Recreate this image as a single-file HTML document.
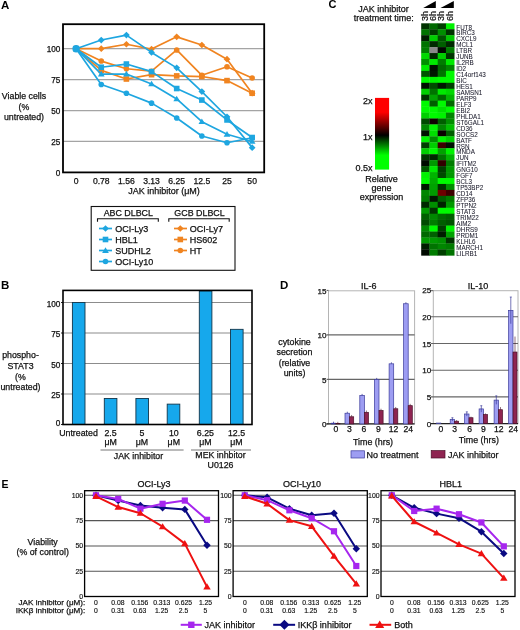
<!DOCTYPE html>
<html><head><meta charset="utf-8"><style>
html,body{margin:0;padding:0;background:#fff;}
svg{display:block;font-family:"Liberation Sans", sans-serif;will-change:transform;filter:blur(0.3px);}
</style></head><body>
<svg width="520" height="630" viewBox="0 0 520 630">
<rect width="520" height="630" fill="#fff"/>
<text x="1.00" y="9.34" font-size="11.5" text-anchor="start" font-weight="bold" fill="#000" stroke="#000" stroke-width="0" >A</text>
<line x1="63.00" y1="48.70" x2="264.20" y2="48.70" stroke="#a4a4a4" stroke-width="1.3" />
<line x1="63.00" y1="79.62" x2="264.20" y2="79.62" stroke="#a4a4a4" stroke-width="1.3" />
<line x1="63.00" y1="110.55" x2="264.20" y2="110.55" stroke="#a4a4a4" stroke-width="1.3" />
<line x1="63.00" y1="141.47" x2="264.20" y2="141.47" stroke="#a4a4a4" stroke-width="1.3" />
<text x="60.40" y="51.85" font-size="8.2" text-anchor="end" font-weight="normal" fill="#111" stroke="#111" stroke-width="0.25" >100</text>
<text x="60.40" y="82.78" font-size="8.2" text-anchor="end" font-weight="normal" fill="#111" stroke="#111" stroke-width="0.25" >75</text>
<text x="60.40" y="113.70" font-size="8.2" text-anchor="end" font-weight="normal" fill="#111" stroke="#111" stroke-width="0.25" >50</text>
<text x="60.40" y="144.63" font-size="8.2" text-anchor="end" font-weight="normal" fill="#111" stroke="#111" stroke-width="0.25" >25</text>
<text x="60.40" y="175.55" font-size="8.2" text-anchor="end" font-weight="normal" fill="#111" stroke="#111" stroke-width="0.25" >0</text>
<text x="76.10" y="183.50" font-size="8.6" text-anchor="middle" font-weight="normal" fill="#111" stroke="#111" stroke-width="0.25" >0</text>
<text x="101.25" y="183.50" font-size="8.6" text-anchor="middle" font-weight="normal" fill="#111" stroke="#111" stroke-width="0.25" >0.78</text>
<text x="126.40" y="183.50" font-size="8.6" text-anchor="middle" font-weight="normal" fill="#111" stroke="#111" stroke-width="0.25" >1.56</text>
<text x="151.55" y="183.50" font-size="8.6" text-anchor="middle" font-weight="normal" fill="#111" stroke="#111" stroke-width="0.25" >3.13</text>
<text x="176.70" y="183.50" font-size="8.6" text-anchor="middle" font-weight="normal" fill="#111" stroke="#111" stroke-width="0.25" >6.25</text>
<text x="201.85" y="183.50" font-size="8.6" text-anchor="middle" font-weight="normal" fill="#111" stroke="#111" stroke-width="0.25" >12.5</text>
<text x="227.00" y="183.50" font-size="8.6" text-anchor="middle" font-weight="normal" fill="#111" stroke="#111" stroke-width="0.25" >25</text>
<text x="252.15" y="183.50" font-size="8.6" text-anchor="middle" font-weight="normal" fill="#111" stroke="#111" stroke-width="0.25" >50</text>
<text x="164.00" y="194.44" font-size="9" text-anchor="middle" font-weight="normal" fill="#111" stroke="#111" stroke-width="0.25" >JAK inhibitor (μM)</text>
<text x="24.00" y="99.17" font-size="8.8" text-anchor="middle" font-weight="normal" fill="#111" stroke="#111" stroke-width="0.25" >Viable cells</text>
<text x="24.00" y="109.77" font-size="8.8" text-anchor="middle" font-weight="normal" fill="#111" stroke="#111" stroke-width="0.25" >(%</text>
<text x="24.00" y="120.37" font-size="8.8" text-anchor="middle" font-weight="normal" fill="#111" stroke="#111" stroke-width="0.25" >untreated)</text>
<polyline points="76.10,48.70 101.25,48.70 126.40,44.25 151.55,49.07 176.70,36.82 201.85,44.99 227.00,59.21 252.15,93.23" fill="none" stroke="#f08420" stroke-width="1.7" stroke-linejoin="round"/>
<polygon points="76.10,45.34 79.46,48.70 76.10,52.06 72.74,48.70" fill="#f08420"/>
<polygon points="101.25,45.34 104.61,48.70 101.25,52.06 97.89,48.70" fill="#f08420"/>
<polygon points="126.40,40.89 129.76,44.25 126.40,47.61 123.04,44.25" fill="#f08420"/>
<polygon points="151.55,45.71 154.91,49.07 151.55,52.43 148.19,49.07" fill="#f08420"/>
<polygon points="176.70,33.46 180.06,36.82 176.70,40.18 173.34,36.82" fill="#f08420"/>
<polygon points="201.85,41.63 205.21,44.99 201.85,48.35 198.49,44.99" fill="#f08420"/>
<polygon points="227.00,55.85 230.36,59.21 227.00,62.57 223.64,59.21" fill="#f08420"/>
<polygon points="252.15,89.87 255.51,93.23 252.15,96.59 248.79,93.23" fill="#f08420"/>
<polyline points="76.10,48.70 101.25,61.07 126.40,68.74 151.55,71.21 176.70,49.94 201.85,75.30 227.00,66.76 252.15,78.02" fill="none" stroke="#f08420" stroke-width="1.7" stroke-linejoin="round"/>
<circle cx="76.10" cy="48.70" r="2.80" fill="#f08420"/>
<circle cx="101.25" cy="61.07" r="2.80" fill="#f08420"/>
<circle cx="126.40" cy="68.74" r="2.80" fill="#f08420"/>
<circle cx="151.55" cy="71.21" r="2.80" fill="#f08420"/>
<circle cx="176.70" cy="49.94" r="2.80" fill="#f08420"/>
<circle cx="201.85" cy="75.30" r="2.80" fill="#f08420"/>
<circle cx="227.00" cy="66.76" r="2.80" fill="#f08420"/>
<circle cx="252.15" cy="78.02" r="2.80" fill="#f08420"/>
<polyline points="76.10,48.70 101.25,70.35 126.40,79.01 151.55,74.68 176.70,75.91 201.85,76.53 227.00,80.61 252.15,93.23" fill="none" stroke="#f08420" stroke-width="1.7" stroke-linejoin="round"/>
<rect x="73.30" y="45.90" width="5.60" height="5.60" fill="#f08420"/>
<rect x="98.45" y="67.55" width="5.60" height="5.60" fill="#f08420"/>
<rect x="123.60" y="76.21" width="5.60" height="5.60" fill="#f08420"/>
<rect x="148.75" y="71.88" width="5.60" height="5.60" fill="#f08420"/>
<rect x="173.90" y="73.11" width="5.60" height="5.60" fill="#f08420"/>
<rect x="199.05" y="73.73" width="5.60" height="5.60" fill="#f08420"/>
<rect x="224.20" y="77.81" width="5.60" height="5.60" fill="#f08420"/>
<rect x="249.35" y="90.43" width="5.60" height="5.60" fill="#f08420"/>
<polyline points="76.10,48.70 101.25,40.04 126.40,35.09 151.55,52.41 176.70,67.87 201.85,91.62 227.00,116.73 252.15,147.66" fill="none" stroke="#1ea6e0" stroke-width="1.7" stroke-linejoin="round"/>
<polygon points="76.10,45.34 79.46,48.70 76.10,52.06 72.74,48.70" fill="#1ea6e0"/>
<polygon points="101.25,36.68 104.61,40.04 101.25,43.40 97.89,40.04" fill="#1ea6e0"/>
<polygon points="126.40,31.73 129.76,35.09 126.40,38.45 123.04,35.09" fill="#1ea6e0"/>
<polygon points="151.55,49.05 154.91,52.41 151.55,55.77 148.19,52.41" fill="#1ea6e0"/>
<polygon points="176.70,64.51 180.06,67.87 176.70,71.23 173.34,67.87" fill="#1ea6e0"/>
<polygon points="201.85,88.26 205.21,91.62 201.85,94.98 198.49,91.62" fill="#1ea6e0"/>
<polygon points="227.00,113.38 230.36,116.73 227.00,120.09 223.64,116.73" fill="#1ea6e0"/>
<polygon points="252.15,144.30 255.51,147.66 252.15,151.02 248.79,147.66" fill="#1ea6e0"/>
<polyline points="76.10,48.70 101.25,67.25 126.40,64.04 151.55,71.58 176.70,88.53 201.85,100.04 227.00,119.95 252.15,137.52" fill="none" stroke="#1ea6e0" stroke-width="1.7" stroke-linejoin="round"/>
<rect x="73.30" y="45.90" width="5.60" height="5.60" fill="#1ea6e0"/>
<rect x="98.45" y="64.45" width="5.60" height="5.60" fill="#1ea6e0"/>
<rect x="123.60" y="61.24" width="5.60" height="5.60" fill="#1ea6e0"/>
<rect x="148.75" y="68.78" width="5.60" height="5.60" fill="#1ea6e0"/>
<rect x="173.90" y="85.73" width="5.60" height="5.60" fill="#1ea6e0"/>
<rect x="199.05" y="97.24" width="5.60" height="5.60" fill="#1ea6e0"/>
<rect x="224.20" y="117.15" width="5.60" height="5.60" fill="#1ea6e0"/>
<rect x="249.35" y="134.72" width="5.60" height="5.60" fill="#1ea6e0"/>
<polyline points="76.10,48.70 101.25,74.06 126.40,74.06 151.55,83.95 176.70,98.92 201.85,121.68 227.00,134.30 252.15,141.47" fill="none" stroke="#1ea6e0" stroke-width="1.7" stroke-linejoin="round"/>
<polygon points="76.10,45.48 79.46,51.08 72.74,51.08" fill="#1ea6e0"/>
<polygon points="101.25,70.84 104.61,76.44 97.89,76.44" fill="#1ea6e0"/>
<polygon points="126.40,70.84 129.76,76.44 123.04,76.44" fill="#1ea6e0"/>
<polygon points="151.55,80.73 154.91,86.33 148.19,86.33" fill="#1ea6e0"/>
<polygon points="176.70,95.70 180.06,101.30 173.34,101.30" fill="#1ea6e0"/>
<polygon points="201.85,118.46 205.21,124.06 198.49,124.06" fill="#1ea6e0"/>
<polygon points="227.00,131.08 230.36,136.68 223.64,136.68" fill="#1ea6e0"/>
<polygon points="252.15,138.25 255.51,143.85 248.79,143.85" fill="#1ea6e0"/>
<polyline points="76.10,48.70 101.25,84.57 126.40,93.23 151.55,103.13 176.70,117.97 201.85,136.03 227.00,142.71 252.15,137.76" fill="none" stroke="#1ea6e0" stroke-width="1.7" stroke-linejoin="round"/>
<circle cx="76.10" cy="48.70" r="2.80" fill="#1ea6e0"/>
<circle cx="101.25" cy="84.57" r="2.80" fill="#1ea6e0"/>
<circle cx="126.40" cy="93.23" r="2.80" fill="#1ea6e0"/>
<circle cx="151.55" cy="103.13" r="2.80" fill="#1ea6e0"/>
<circle cx="176.70" cy="117.97" r="2.80" fill="#1ea6e0"/>
<circle cx="201.85" cy="136.03" r="2.80" fill="#1ea6e0"/>
<circle cx="227.00" cy="142.71" r="2.80" fill="#1ea6e0"/>
<circle cx="252.15" cy="137.76" r="2.80" fill="#1ea6e0"/>
<circle cx="76.10" cy="48.70" r="3.70" fill="#1ea6e0"/>
<rect x="63.00" y="24.20" width="201.20" height="148.20" fill="none" stroke="#000" stroke-width="1.8" />
<rect x="91.20" y="206.50" width="143.80" height="63.80" fill="none" stroke="#111" stroke-width="1.1" />
<text x="128.30" y="215.90" font-size="8.9" text-anchor="middle" font-weight="normal" fill="#111" stroke="#111" stroke-width="0.25" >ABC DLBCL</text>
<text x="199.50" y="215.90" font-size="8.9" text-anchor="middle" font-weight="normal" fill="#111" stroke="#111" stroke-width="0.25" >GCB DLBCL</text>
<path d="M97.5,221.8 V218.8 H158.3 V221.8" fill="none" stroke="#111" stroke-width="1.1"/>
<path d="M168.8,221.8 V218.8 H229.2 V221.8" fill="none" stroke="#111" stroke-width="1.1"/>
<line x1="99.00" y1="228.50" x2="112.00" y2="228.50" stroke="#1ea6e0" stroke-width="1.7" />
<polygon points="105.50,225.14 108.86,228.50 105.50,231.86 102.14,228.50" fill="#1ea6e0"/>
<text x="115.20" y="231.74" font-size="9" text-anchor="start" font-weight="normal" fill="#111" stroke="#111" stroke-width="0.25" >OCI-Ly3</text>
<line x1="99.00" y1="239.50" x2="112.00" y2="239.50" stroke="#1ea6e0" stroke-width="1.7" />
<rect x="102.70" y="236.70" width="5.60" height="5.60" fill="#1ea6e0"/>
<text x="115.20" y="242.74" font-size="9" text-anchor="start" font-weight="normal" fill="#111" stroke="#111" stroke-width="0.25" >HBL1</text>
<line x1="99.00" y1="250.50" x2="112.00" y2="250.50" stroke="#1ea6e0" stroke-width="1.7" />
<polygon points="105.50,247.28 108.86,252.88 102.14,252.88" fill="#1ea6e0"/>
<text x="115.20" y="253.74" font-size="9" text-anchor="start" font-weight="normal" fill="#111" stroke="#111" stroke-width="0.25" >SUDHL2</text>
<line x1="99.00" y1="261.50" x2="112.00" y2="261.50" stroke="#1ea6e0" stroke-width="1.7" />
<circle cx="105.50" cy="261.50" r="2.80" fill="#1ea6e0"/>
<text x="115.20" y="264.74" font-size="9" text-anchor="start" font-weight="normal" fill="#111" stroke="#111" stroke-width="0.25" >OCI-Ly10</text>
<line x1="174.00" y1="228.50" x2="187.00" y2="228.50" stroke="#f08420" stroke-width="1.7" />
<polygon points="180.30,225.14 183.66,228.50 180.30,231.86 176.94,228.50" fill="#f08420"/>
<text x="189.80" y="231.74" font-size="9" text-anchor="start" font-weight="normal" fill="#111" stroke="#111" stroke-width="0.25" >OCI-Ly7</text>
<line x1="174.00" y1="239.50" x2="187.00" y2="239.50" stroke="#f08420" stroke-width="1.7" />
<rect x="177.50" y="236.70" width="5.60" height="5.60" fill="#f08420"/>
<text x="189.80" y="242.74" font-size="9" text-anchor="start" font-weight="normal" fill="#111" stroke="#111" stroke-width="0.25" >HS602</text>
<line x1="174.00" y1="250.50" x2="187.00" y2="250.50" stroke="#f08420" stroke-width="1.7" />
<circle cx="180.30" cy="250.50" r="2.80" fill="#f08420"/>
<text x="189.80" y="253.74" font-size="9" text-anchor="start" font-weight="normal" fill="#111" stroke="#111" stroke-width="0.25" >HT</text>
<text x="1.00" y="289.34" font-size="11.5" text-anchor="start" font-weight="bold" fill="#000" stroke="#000" stroke-width="0" >B</text>
<line x1="63.00" y1="302.50" x2="252.00" y2="302.50" stroke="#8c8c8c" stroke-width="1.1" />
<line x1="63.00" y1="333.00" x2="252.00" y2="333.00" stroke="#8c8c8c" stroke-width="1.1" />
<line x1="63.00" y1="363.50" x2="252.00" y2="363.50" stroke="#8c8c8c" stroke-width="1.1" />
<line x1="63.00" y1="394.00" x2="252.00" y2="394.00" stroke="#8c8c8c" stroke-width="1.1" />
<text x="60.40" y="306.75" font-size="8.2" text-anchor="end" font-weight="normal" fill="#111" stroke="#111" stroke-width="0.25" >100</text>
<line x1="61.00" y1="302.50" x2="63.00" y2="302.50" stroke="#222" stroke-width="1" />
<text x="60.40" y="337.25" font-size="8.2" text-anchor="end" font-weight="normal" fill="#111" stroke="#111" stroke-width="0.25" >75</text>
<line x1="61.00" y1="333.00" x2="63.00" y2="333.00" stroke="#222" stroke-width="1" />
<text x="60.40" y="367.75" font-size="8.2" text-anchor="end" font-weight="normal" fill="#111" stroke="#111" stroke-width="0.25" >50</text>
<line x1="61.00" y1="363.50" x2="63.00" y2="363.50" stroke="#222" stroke-width="1" />
<text x="60.40" y="398.25" font-size="8.2" text-anchor="end" font-weight="normal" fill="#111" stroke="#111" stroke-width="0.25" >25</text>
<line x1="61.00" y1="394.00" x2="63.00" y2="394.00" stroke="#222" stroke-width="1" />
<text x="60.40" y="426.15" font-size="8.2" text-anchor="end" font-weight="normal" fill="#111" stroke="#111" stroke-width="0.25" >0</text>
<line x1="61.00" y1="424.50" x2="63.00" y2="424.50" stroke="#222" stroke-width="1" />
<rect x="72.40" y="302.50" width="12.60" height="122.00" fill="#16a8ec" stroke="#12354a" stroke-width="0.9" />
<rect x="104.30" y="398.51" width="12.60" height="25.99" fill="#16a8ec" stroke="#12354a" stroke-width="0.9" />
<rect x="135.90" y="398.51" width="12.60" height="25.99" fill="#16a8ec" stroke="#12354a" stroke-width="0.9" />
<rect x="167.20" y="404.13" width="12.60" height="20.37" fill="#16a8ec" stroke="#12354a" stroke-width="0.9" />
<rect x="199.30" y="291.00" width="12.60" height="133.50" fill="#16a8ec" stroke="#12354a" stroke-width="0.9" />
<rect x="230.50" y="329.34" width="12.60" height="95.16" fill="#16a8ec" stroke="#12354a" stroke-width="0.9" />
<rect x="63.00" y="290.40" width="189.00" height="134.10" fill="none" stroke="#000" stroke-width="1.6" />
<text x="20.50" y="358.17" font-size="8.8" text-anchor="middle" font-weight="normal" fill="#111" stroke="#111" stroke-width="0.25" >phospho-</text>
<text x="20.50" y="368.97" font-size="8.8" text-anchor="middle" font-weight="normal" fill="#111" stroke="#111" stroke-width="0.25" >STAT3</text>
<text x="20.50" y="379.57" font-size="8.8" text-anchor="middle" font-weight="normal" fill="#111" stroke="#111" stroke-width="0.25" >(%</text>
<text x="20.50" y="390.47" font-size="8.8" text-anchor="middle" font-weight="normal" fill="#111" stroke="#111" stroke-width="0.25" >untreated)</text>
<text x="78.50" y="436.17" font-size="8.8" text-anchor="middle" font-weight="normal" fill="#111" stroke="#111" stroke-width="0.25" >Untreated</text>
<text x="110.60" y="436.17" font-size="8.8" text-anchor="middle" font-weight="normal" fill="#111" stroke="#111" stroke-width="0.25" >2.5</text>
<text x="110.60" y="444.97" font-size="8.8" text-anchor="middle" font-weight="normal" fill="#111" stroke="#111" stroke-width="0.25" >μM</text>
<text x="142.00" y="436.17" font-size="8.8" text-anchor="middle" font-weight="normal" fill="#111" stroke="#111" stroke-width="0.25" >5</text>
<text x="142.00" y="444.97" font-size="8.8" text-anchor="middle" font-weight="normal" fill="#111" stroke="#111" stroke-width="0.25" >μM</text>
<text x="173.80" y="436.17" font-size="8.8" text-anchor="middle" font-weight="normal" fill="#111" stroke="#111" stroke-width="0.25" >10</text>
<text x="173.80" y="444.97" font-size="8.8" text-anchor="middle" font-weight="normal" fill="#111" stroke="#111" stroke-width="0.25" >μM</text>
<text x="205.40" y="436.17" font-size="8.8" text-anchor="middle" font-weight="normal" fill="#111" stroke="#111" stroke-width="0.25" >6.25</text>
<text x="205.40" y="444.97" font-size="8.8" text-anchor="middle" font-weight="normal" fill="#111" stroke="#111" stroke-width="0.25" >μM</text>
<text x="236.50" y="436.17" font-size="8.8" text-anchor="middle" font-weight="normal" fill="#111" stroke="#111" stroke-width="0.25" >12.5</text>
<text x="236.50" y="444.97" font-size="8.8" text-anchor="middle" font-weight="normal" fill="#111" stroke="#111" stroke-width="0.25" >μM</text>
<line x1="100.50" y1="450.00" x2="183.60" y2="450.00" stroke="#777" stroke-width="1" />
<line x1="191.00" y1="450.00" x2="251.00" y2="450.00" stroke="#777" stroke-width="1" />
<text x="138.50" y="458.67" font-size="8.8" text-anchor="middle" font-weight="normal" fill="#111" stroke="#111" stroke-width="0.25" >JAK inhibitor</text>
<text x="220.50" y="458.47" font-size="8.8" text-anchor="middle" font-weight="normal" fill="#111" stroke="#111" stroke-width="0.25" >MEK inhbitor</text>
<text x="220.50" y="468.37" font-size="8.8" text-anchor="middle" font-weight="normal" fill="#111" stroke="#111" stroke-width="0.25" >U0126</text>
<text x="328.50" y="8.36" font-size="11" text-anchor="start" font-weight="bold" fill="#000" stroke="#000" stroke-width="0" >C</text>
<text x="383.50" y="12.44" font-size="9" text-anchor="middle" font-weight="normal" fill="#111" stroke="#111" stroke-width="0.25" >JAK inhibitor</text>
<text x="383.70" y="21.44" font-size="9" text-anchor="middle" font-weight="normal" fill="#111" stroke="#111" stroke-width="0.25" >treatment time:</text>
<polygon points="423.2,8 435.8,0.9 435.8,8" fill="#000"/>
<polygon points="440.5,8 453.8,0.9 453.8,8" fill="#000"/>
<text transform="translate(427.82,21.0) rotate(-90)" font-size="9" fill="#111" stroke="#111" stroke-width="0.2">3h</text>
<text transform="translate(436.07,21.0) rotate(-90)" font-size="9" fill="#111" stroke="#111" stroke-width="0.2">6h</text>
<text transform="translate(444.32,21.0) rotate(-90)" font-size="9" fill="#111" stroke="#111" stroke-width="0.2">3h</text>
<text transform="translate(452.57,21.0) rotate(-90)" font-size="9" fill="#111" stroke="#111" stroke-width="0.2">6h</text>
<rect x="421.20" y="23.30" width="8.55" height="6.25" fill="rgb(0,52,0)" stroke="none" stroke-width="1" />
<rect x="429.45" y="23.30" width="8.55" height="6.25" fill="rgb(0,105,0)" stroke="none" stroke-width="1" />
<rect x="437.70" y="23.30" width="8.55" height="6.25" fill="rgb(0,63,0)" stroke="none" stroke-width="1" />
<rect x="445.95" y="23.30" width="8.55" height="6.25" fill="rgb(0,242,0)" stroke="none" stroke-width="1" />
<rect x="421.20" y="29.25" width="8.55" height="6.25" fill="rgb(0,115,0)" stroke="none" stroke-width="1" />
<rect x="429.45" y="29.25" width="8.55" height="6.25" fill="rgb(0,63,0)" stroke="none" stroke-width="1" />
<rect x="437.70" y="29.25" width="8.55" height="6.25" fill="rgb(0,143,0)" stroke="none" stroke-width="1" />
<rect x="445.95" y="29.25" width="8.55" height="6.25" fill="rgb(0,52,0)" stroke="none" stroke-width="1" />
<rect x="421.20" y="35.20" width="8.55" height="6.25" fill="rgb(0,29,0)" stroke="none" stroke-width="1" />
<rect x="429.45" y="35.20" width="8.55" height="6.25" fill="rgb(0,207,0)" stroke="none" stroke-width="1" />
<rect x="437.70" y="35.20" width="8.55" height="6.25" fill="rgb(0,84,0)" stroke="none" stroke-width="1" />
<rect x="445.95" y="35.20" width="8.55" height="6.25" fill="rgb(0,198,0)" stroke="none" stroke-width="1" />
<rect x="421.20" y="41.15" width="8.55" height="6.25" fill="rgb(0,115,0)" stroke="none" stroke-width="1" />
<rect x="429.45" y="41.15" width="8.55" height="6.25" fill="rgb(0,41,0)" stroke="none" stroke-width="1" />
<rect x="437.70" y="41.15" width="8.55" height="6.25" fill="rgb(0,95,0)" stroke="none" stroke-width="1" />
<rect x="445.95" y="41.15" width="8.55" height="6.25" fill="rgb(0,41,0)" stroke="none" stroke-width="1" />
<rect x="421.20" y="47.10" width="8.55" height="6.25" fill="rgb(0,124,0)" stroke="none" stroke-width="1" />
<rect x="429.45" y="47.10" width="8.55" height="6.25" fill="#8a8a8a" stroke="none" stroke-width="1" />
<rect x="437.70" y="47.10" width="8.55" height="6.25" fill="rgb(0,9,0)" stroke="none" stroke-width="1" />
<rect x="445.95" y="47.10" width="8.55" height="6.25" fill="rgb(0,124,0)" stroke="none" stroke-width="1" />
<rect x="421.20" y="53.05" width="8.55" height="6.25" fill="rgb(0,216,0)" stroke="none" stroke-width="1" />
<rect x="429.45" y="53.05" width="8.55" height="6.25" fill="rgb(0,41,0)" stroke="none" stroke-width="1" />
<rect x="437.70" y="53.05" width="8.55" height="6.25" fill="rgb(0,207,0)" stroke="none" stroke-width="1" />
<rect x="445.95" y="53.05" width="8.55" height="6.25" fill="rgb(0,52,0)" stroke="none" stroke-width="1" />
<rect x="421.20" y="59.00" width="8.55" height="6.25" fill="rgb(0,143,0)" stroke="none" stroke-width="1" />
<rect x="429.45" y="59.00" width="8.55" height="6.25" fill="rgb(0,233,0)" stroke="none" stroke-width="1" />
<rect x="437.70" y="59.00" width="8.55" height="6.25" fill="rgb(0,124,0)" stroke="none" stroke-width="1" />
<rect x="445.95" y="59.00" width="8.55" height="6.25" fill="rgb(0,233,0)" stroke="none" stroke-width="1" />
<rect x="421.20" y="64.95" width="8.55" height="6.25" fill="rgb(0,233,0)" stroke="none" stroke-width="1" />
<rect x="429.45" y="64.95" width="8.55" height="6.25" fill="rgb(0,16,0)" stroke="none" stroke-width="1" />
<rect x="437.70" y="64.95" width="8.55" height="6.25" fill="rgb(0,105,0)" stroke="none" stroke-width="1" />
<rect x="445.95" y="64.95" width="8.55" height="6.25" fill="rgb(0,134,0)" stroke="none" stroke-width="1" />
<rect x="421.20" y="70.90" width="8.55" height="6.25" fill="rgb(0,84,0)" stroke="none" stroke-width="1" />
<rect x="429.45" y="70.90" width="8.55" height="6.25" fill="rgb(0,22,0)" stroke="none" stroke-width="1" />
<rect x="437.70" y="70.90" width="8.55" height="6.25" fill="rgb(0,115,0)" stroke="none" stroke-width="1" />
<rect x="445.95" y="70.90" width="8.55" height="6.25" fill="rgb(0,250,0)" stroke="none" stroke-width="1" />
<rect x="421.20" y="76.85" width="8.55" height="6.25" fill="rgb(0,250,0)" stroke="none" stroke-width="1" />
<rect x="429.45" y="76.85" width="8.55" height="6.25" fill="rgb(0,242,0)" stroke="none" stroke-width="1" />
<rect x="437.70" y="76.85" width="8.55" height="6.25" fill="rgb(0,250,0)" stroke="none" stroke-width="1" />
<rect x="445.95" y="76.85" width="8.55" height="6.25" fill="rgb(0,250,0)" stroke="none" stroke-width="1" />
<rect x="421.20" y="82.80" width="8.55" height="6.25" fill="rgb(0,16,0)" stroke="none" stroke-width="1" />
<rect x="429.45" y="82.80" width="8.55" height="6.25" fill="rgb(0,74,0)" stroke="none" stroke-width="1" />
<rect x="437.70" y="82.80" width="8.55" height="6.25" fill="rgb(0,22,0)" stroke="none" stroke-width="1" />
<rect x="445.95" y="82.80" width="8.55" height="6.25" fill="rgb(0,63,0)" stroke="none" stroke-width="1" />
<rect x="421.20" y="88.75" width="8.55" height="6.25" fill="rgb(0,207,0)" stroke="none" stroke-width="1" />
<rect x="429.45" y="88.75" width="8.55" height="6.25" fill="rgb(0,115,0)" stroke="none" stroke-width="1" />
<rect x="437.70" y="88.75" width="8.55" height="6.25" fill="rgb(0,233,0)" stroke="none" stroke-width="1" />
<rect x="445.95" y="88.75" width="8.55" height="6.25" fill="rgb(0,216,0)" stroke="none" stroke-width="1" />
<rect x="421.20" y="94.70" width="8.55" height="6.25" fill="rgb(0,52,0)" stroke="none" stroke-width="1" />
<rect x="429.45" y="94.70" width="8.55" height="6.25" fill="rgb(0,162,0)" stroke="none" stroke-width="1" />
<rect x="437.70" y="94.70" width="8.55" height="6.25" fill="rgb(0,105,0)" stroke="none" stroke-width="1" />
<rect x="445.95" y="94.70" width="8.55" height="6.25" fill="rgb(0,180,0)" stroke="none" stroke-width="1" />
<rect x="421.20" y="100.65" width="8.55" height="6.25" fill="rgb(0,250,0)" stroke="none" stroke-width="1" />
<rect x="429.45" y="100.65" width="8.55" height="6.25" fill="rgb(0,95,0)" stroke="none" stroke-width="1" />
<rect x="437.70" y="100.65" width="8.55" height="6.25" fill="rgb(0,250,0)" stroke="none" stroke-width="1" />
<rect x="445.95" y="100.65" width="8.55" height="6.25" fill="rgb(0,105,0)" stroke="none" stroke-width="1" />
<rect x="421.20" y="106.60" width="8.55" height="6.25" fill="rgb(0,250,0)" stroke="none" stroke-width="1" />
<rect x="429.45" y="106.60" width="8.55" height="6.25" fill="rgb(0,250,0)" stroke="none" stroke-width="1" />
<rect x="437.70" y="106.60" width="8.55" height="6.25" fill="rgb(0,224,0)" stroke="none" stroke-width="1" />
<rect x="445.95" y="106.60" width="8.55" height="6.25" fill="rgb(0,250,0)" stroke="none" stroke-width="1" />
<rect x="421.20" y="112.55" width="8.55" height="6.25" fill="rgb(0,207,0)" stroke="none" stroke-width="1" />
<rect x="429.45" y="112.55" width="8.55" height="6.25" fill="rgb(0,250,0)" stroke="none" stroke-width="1" />
<rect x="437.70" y="112.55" width="8.55" height="6.25" fill="rgb(0,242,0)" stroke="none" stroke-width="1" />
<rect x="445.95" y="112.55" width="8.55" height="6.25" fill="rgb(0,134,0)" stroke="none" stroke-width="1" />
<rect x="421.20" y="118.50" width="8.55" height="6.25" fill="rgb(0,74,0)" stroke="none" stroke-width="1" />
<rect x="429.45" y="118.50" width="8.55" height="6.25" fill="rgb(15,0,0)" stroke="none" stroke-width="1" />
<rect x="437.70" y="118.50" width="8.55" height="6.25" fill="rgb(0,95,0)" stroke="none" stroke-width="1" />
<rect x="445.95" y="118.50" width="8.55" height="6.25" fill="rgb(0,143,0)" stroke="none" stroke-width="1" />
<rect x="421.20" y="124.45" width="8.55" height="6.25" fill="rgb(0,134,0)" stroke="none" stroke-width="1" />
<rect x="429.45" y="124.45" width="8.55" height="6.25" fill="rgb(0,242,0)" stroke="none" stroke-width="1" />
<rect x="437.70" y="124.45" width="8.55" height="6.25" fill="rgb(0,134,0)" stroke="none" stroke-width="1" />
<rect x="445.95" y="124.45" width="8.55" height="6.25" fill="rgb(0,189,0)" stroke="none" stroke-width="1" />
<rect x="421.20" y="130.40" width="8.55" height="6.25" fill="rgb(0,16,0)" stroke="none" stroke-width="1" />
<rect x="429.45" y="130.40" width="8.55" height="6.25" fill="rgb(0,224,0)" stroke="none" stroke-width="1" />
<rect x="437.70" y="130.40" width="8.55" height="6.25" fill="rgb(10,0,0)" stroke="none" stroke-width="1" />
<rect x="445.95" y="130.40" width="8.55" height="6.25" fill="rgb(0,95,0)" stroke="none" stroke-width="1" />
<rect x="421.20" y="136.35" width="8.55" height="6.25" fill="rgb(0,242,0)" stroke="none" stroke-width="1" />
<rect x="429.45" y="136.35" width="8.55" height="6.25" fill="rgb(0,143,0)" stroke="none" stroke-width="1" />
<rect x="437.70" y="136.35" width="8.55" height="6.25" fill="rgb(0,242,0)" stroke="none" stroke-width="1" />
<rect x="445.95" y="136.35" width="8.55" height="6.25" fill="rgb(0,207,0)" stroke="none" stroke-width="1" />
<rect x="421.20" y="142.30" width="8.55" height="6.25" fill="rgb(0,63,0)" stroke="none" stroke-width="1" />
<rect x="429.45" y="142.30" width="8.55" height="6.25" fill="rgb(0,207,0)" stroke="none" stroke-width="1" />
<rect x="437.70" y="142.30" width="8.55" height="6.25" fill="rgb(60,0,0)" stroke="none" stroke-width="1" />
<rect x="445.95" y="142.30" width="8.55" height="6.25" fill="rgb(0,16,0)" stroke="none" stroke-width="1" />
<rect x="421.20" y="148.25" width="8.55" height="6.25" fill="rgb(0,207,0)" stroke="none" stroke-width="1" />
<rect x="429.45" y="148.25" width="8.55" height="6.25" fill="rgb(0,250,0)" stroke="none" stroke-width="1" />
<rect x="437.70" y="148.25" width="8.55" height="6.25" fill="rgb(0,162,0)" stroke="none" stroke-width="1" />
<rect x="445.95" y="148.25" width="8.55" height="6.25" fill="rgb(0,242,0)" stroke="none" stroke-width="1" />
<rect x="421.20" y="154.20" width="8.55" height="6.25" fill="rgb(0,52,0)" stroke="none" stroke-width="1" />
<rect x="429.45" y="154.20" width="8.55" height="6.25" fill="rgb(0,41,0)" stroke="none" stroke-width="1" />
<rect x="437.70" y="154.20" width="8.55" height="6.25" fill="rgb(0,115,0)" stroke="none" stroke-width="1" />
<rect x="445.95" y="154.20" width="8.55" height="6.25" fill="rgb(0,180,0)" stroke="none" stroke-width="1" />
<rect x="421.20" y="160.15" width="8.55" height="6.25" fill="rgb(0,9,0)" stroke="none" stroke-width="1" />
<rect x="429.45" y="160.15" width="8.55" height="6.25" fill="rgb(0,153,0)" stroke="none" stroke-width="1" />
<rect x="437.70" y="160.15" width="8.55" height="6.25" fill="rgb(50,0,0)" stroke="none" stroke-width="1" />
<rect x="445.95" y="160.15" width="8.55" height="6.25" fill="rgb(0,124,0)" stroke="none" stroke-width="1" />
<rect x="421.20" y="166.10" width="8.55" height="6.25" fill="rgb(0,84,0)" stroke="none" stroke-width="1" />
<rect x="429.45" y="166.10" width="8.55" height="6.25" fill="rgb(0,233,0)" stroke="none" stroke-width="1" />
<rect x="437.70" y="166.10" width="8.55" height="6.25" fill="rgb(0,63,0)" stroke="none" stroke-width="1" />
<rect x="445.95" y="166.10" width="8.55" height="6.25" fill="rgb(0,153,0)" stroke="none" stroke-width="1" />
<rect x="421.20" y="172.05" width="8.55" height="6.25" fill="rgb(0,242,0)" stroke="none" stroke-width="1" />
<rect x="429.45" y="172.05" width="8.55" height="6.25" fill="rgb(0,180,0)" stroke="none" stroke-width="1" />
<rect x="437.70" y="172.05" width="8.55" height="6.25" fill="rgb(0,74,0)" stroke="none" stroke-width="1" />
<rect x="445.95" y="172.05" width="8.55" height="6.25" fill="rgb(0,153,0)" stroke="none" stroke-width="1" />
<rect x="421.20" y="178.00" width="8.55" height="6.25" fill="rgb(0,250,0)" stroke="none" stroke-width="1" />
<rect x="429.45" y="178.00" width="8.55" height="6.25" fill="rgb(0,171,0)" stroke="none" stroke-width="1" />
<rect x="437.70" y="178.00" width="8.55" height="6.25" fill="rgb(0,250,0)" stroke="none" stroke-width="1" />
<rect x="445.95" y="178.00" width="8.55" height="6.25" fill="rgb(0,250,0)" stroke="none" stroke-width="1" />
<rect x="421.20" y="183.95" width="8.55" height="6.25" fill="rgb(0,22,0)" stroke="none" stroke-width="1" />
<rect x="429.45" y="183.95" width="8.55" height="6.25" fill="rgb(0,162,0)" stroke="none" stroke-width="1" />
<rect x="437.70" y="183.95" width="8.55" height="6.25" fill="rgb(0,52,0)" stroke="none" stroke-width="1" />
<rect x="445.95" y="183.95" width="8.55" height="6.25" fill="rgb(0,143,0)" stroke="none" stroke-width="1" />
<rect x="421.20" y="189.90" width="8.55" height="6.25" fill="rgb(0,134,0)" stroke="none" stroke-width="1" />
<rect x="429.45" y="189.90" width="8.55" height="6.25" fill="rgb(0,153,0)" stroke="none" stroke-width="1" />
<rect x="437.70" y="189.90" width="8.55" height="6.25" fill="rgb(110,0,0)" stroke="none" stroke-width="1" />
<rect x="445.95" y="189.90" width="8.55" height="6.25" fill="rgb(60,0,0)" stroke="none" stroke-width="1" />
<rect x="421.20" y="195.85" width="8.55" height="6.25" fill="rgb(0,124,0)" stroke="none" stroke-width="1" />
<rect x="429.45" y="195.85" width="8.55" height="6.25" fill="rgb(0,22,0)" stroke="none" stroke-width="1" />
<rect x="437.70" y="195.85" width="8.55" height="6.25" fill="rgb(0,95,0)" stroke="none" stroke-width="1" />
<rect x="445.95" y="195.85" width="8.55" height="6.25" fill="rgb(0,124,0)" stroke="none" stroke-width="1" />
<rect x="421.20" y="201.80" width="8.55" height="6.25" fill="rgb(0,41,0)" stroke="none" stroke-width="1" />
<rect x="429.45" y="201.80" width="8.55" height="6.25" fill="rgb(0,143,0)" stroke="none" stroke-width="1" />
<rect x="437.70" y="201.80" width="8.55" height="6.25" fill="rgb(0,35,0)" stroke="none" stroke-width="1" />
<rect x="445.95" y="201.80" width="8.55" height="6.25" fill="rgb(0,153,0)" stroke="none" stroke-width="1" />
<rect x="421.20" y="207.75" width="8.55" height="6.25" fill="rgb(0,153,0)" stroke="none" stroke-width="1" />
<rect x="429.45" y="207.75" width="8.55" height="6.25" fill="rgb(0,52,0)" stroke="none" stroke-width="1" />
<rect x="437.70" y="207.75" width="8.55" height="6.25" fill="rgb(0,250,0)" stroke="none" stroke-width="1" />
<rect x="445.95" y="207.75" width="8.55" height="6.25" fill="rgb(0,250,0)" stroke="none" stroke-width="1" />
<rect x="421.20" y="213.70" width="8.55" height="6.25" fill="rgb(0,95,0)" stroke="none" stroke-width="1" />
<rect x="429.45" y="213.70" width="8.55" height="6.25" fill="rgb(0,134,0)" stroke="none" stroke-width="1" />
<rect x="437.70" y="213.70" width="8.55" height="6.25" fill="rgb(0,105,0)" stroke="none" stroke-width="1" />
<rect x="445.95" y="213.70" width="8.55" height="6.25" fill="rgb(0,95,0)" stroke="none" stroke-width="1" />
<rect x="421.20" y="219.65" width="8.55" height="6.25" fill="rgb(0,74,0)" stroke="none" stroke-width="1" />
<rect x="429.45" y="219.65" width="8.55" height="6.25" fill="rgb(0,124,0)" stroke="none" stroke-width="1" />
<rect x="437.70" y="219.65" width="8.55" height="6.25" fill="rgb(0,95,0)" stroke="none" stroke-width="1" />
<rect x="445.95" y="219.65" width="8.55" height="6.25" fill="rgb(0,84,0)" stroke="none" stroke-width="1" />
<rect x="421.20" y="225.60" width="8.55" height="6.25" fill="rgb(0,134,0)" stroke="none" stroke-width="1" />
<rect x="429.45" y="225.60" width="8.55" height="6.25" fill="rgb(0,250,0)" stroke="none" stroke-width="1" />
<rect x="437.70" y="225.60" width="8.55" height="6.25" fill="rgb(0,63,0)" stroke="none" stroke-width="1" />
<rect x="445.95" y="225.60" width="8.55" height="6.25" fill="rgb(0,242,0)" stroke="none" stroke-width="1" />
<rect x="421.20" y="231.55" width="8.55" height="6.25" fill="rgb(0,105,0)" stroke="none" stroke-width="1" />
<rect x="429.45" y="231.55" width="8.55" height="6.25" fill="rgb(0,95,0)" stroke="none" stroke-width="1" />
<rect x="437.70" y="231.55" width="8.55" height="6.25" fill="rgb(0,29,0)" stroke="none" stroke-width="1" />
<rect x="445.95" y="231.55" width="8.55" height="6.25" fill="rgb(0,162,0)" stroke="none" stroke-width="1" />
<rect x="421.20" y="237.50" width="8.55" height="6.25" fill="rgb(0,153,0)" stroke="none" stroke-width="1" />
<rect x="429.45" y="237.50" width="8.55" height="6.25" fill="rgb(0,153,0)" stroke="none" stroke-width="1" />
<rect x="437.70" y="237.50" width="8.55" height="6.25" fill="rgb(0,143,0)" stroke="none" stroke-width="1" />
<rect x="445.95" y="237.50" width="8.55" height="6.25" fill="rgb(0,52,0)" stroke="none" stroke-width="1" />
<rect x="421.20" y="243.45" width="8.55" height="6.25" fill="rgb(0,29,0)" stroke="none" stroke-width="1" />
<rect x="429.45" y="243.45" width="8.55" height="6.25" fill="rgb(0,115,0)" stroke="none" stroke-width="1" />
<rect x="437.70" y="243.45" width="8.55" height="6.25" fill="rgb(0,134,0)" stroke="none" stroke-width="1" />
<rect x="445.95" y="243.45" width="8.55" height="6.25" fill="rgb(0,124,0)" stroke="none" stroke-width="1" />
<rect x="421.20" y="249.40" width="8.55" height="6.25" fill="rgb(0,9,0)" stroke="none" stroke-width="1" />
<rect x="429.45" y="249.40" width="8.55" height="6.25" fill="rgb(0,124,0)" stroke="none" stroke-width="1" />
<rect x="437.70" y="249.40" width="8.55" height="6.25" fill="rgb(0,63,0)" stroke="none" stroke-width="1" />
<rect x="445.95" y="249.40" width="8.55" height="6.25" fill="rgb(0,115,0)" stroke="none" stroke-width="1" />
<text x="456.30" y="29.54" font-size="6.3" text-anchor="start" font-weight="normal" fill="#1a1a2a" stroke="#1a1a2a" stroke-width="0.05" >FUT8</text>
<text x="456.30" y="35.49" font-size="6.3" text-anchor="start" font-weight="normal" fill="#1a1a2a" stroke="#1a1a2a" stroke-width="0.05" >BIRC3</text>
<text x="456.30" y="41.44" font-size="6.3" text-anchor="start" font-weight="normal" fill="#1a1a2a" stroke="#1a1a2a" stroke-width="0.05" >CXCL9</text>
<text x="456.30" y="47.39" font-size="6.3" text-anchor="start" font-weight="normal" fill="#1a1a2a" stroke="#1a1a2a" stroke-width="0.05" >MCL1</text>
<text x="456.30" y="53.34" font-size="6.3" text-anchor="start" font-weight="normal" fill="#1a1a2a" stroke="#1a1a2a" stroke-width="0.05" >LTBR</text>
<text x="456.30" y="59.29" font-size="6.3" text-anchor="start" font-weight="normal" fill="#1a1a2a" stroke="#1a1a2a" stroke-width="0.05" >JUNB</text>
<text x="456.30" y="65.24" font-size="6.3" text-anchor="start" font-weight="normal" fill="#1a1a2a" stroke="#1a1a2a" stroke-width="0.05" >IL2RB</text>
<text x="456.30" y="71.19" font-size="6.3" text-anchor="start" font-weight="normal" fill="#1a1a2a" stroke="#1a1a2a" stroke-width="0.05" >ID2</text>
<text x="456.30" y="77.14" font-size="6.3" text-anchor="start" font-weight="normal" fill="#1a1a2a" stroke="#1a1a2a" stroke-width="0.05" >C14orf143</text>
<text x="456.30" y="83.09" font-size="6.3" text-anchor="start" font-weight="normal" fill="#1a1a2a" stroke="#1a1a2a" stroke-width="0.05" >BIC</text>
<text x="456.30" y="89.04" font-size="6.3" text-anchor="start" font-weight="normal" fill="#1a1a2a" stroke="#1a1a2a" stroke-width="0.05" >HES1</text>
<text x="456.30" y="94.99" font-size="6.3" text-anchor="start" font-weight="normal" fill="#1a1a2a" stroke="#1a1a2a" stroke-width="0.05" >SAMSN1</text>
<text x="456.30" y="100.94" font-size="6.3" text-anchor="start" font-weight="normal" fill="#1a1a2a" stroke="#1a1a2a" stroke-width="0.05" >PARP9</text>
<text x="456.30" y="106.89" font-size="6.3" text-anchor="start" font-weight="normal" fill="#1a1a2a" stroke="#1a1a2a" stroke-width="0.05" >ELF3</text>
<text x="456.30" y="112.84" font-size="6.3" text-anchor="start" font-weight="normal" fill="#1a1a2a" stroke="#1a1a2a" stroke-width="0.05" >EBI2</text>
<text x="456.30" y="118.79" font-size="6.3" text-anchor="start" font-weight="normal" fill="#1a1a2a" stroke="#1a1a2a" stroke-width="0.05" >PHLDA1</text>
<text x="456.30" y="124.74" font-size="6.3" text-anchor="start" font-weight="normal" fill="#1a1a2a" stroke="#1a1a2a" stroke-width="0.05" >ST6GAL1</text>
<text x="456.30" y="130.69" font-size="6.3" text-anchor="start" font-weight="normal" fill="#1a1a2a" stroke="#1a1a2a" stroke-width="0.05" >CD36</text>
<text x="456.30" y="136.64" font-size="6.3" text-anchor="start" font-weight="normal" fill="#1a1a2a" stroke="#1a1a2a" stroke-width="0.05" >SOCS2</text>
<text x="456.30" y="142.59" font-size="6.3" text-anchor="start" font-weight="normal" fill="#1a1a2a" stroke="#1a1a2a" stroke-width="0.05" >BATF</text>
<text x="456.30" y="148.54" font-size="6.3" text-anchor="start" font-weight="normal" fill="#1a1a2a" stroke="#1a1a2a" stroke-width="0.05" >RSN</text>
<text x="456.30" y="154.49" font-size="6.3" text-anchor="start" font-weight="normal" fill="#1a1a2a" stroke="#1a1a2a" stroke-width="0.05" >MNDA</text>
<text x="456.30" y="160.44" font-size="6.3" text-anchor="start" font-weight="normal" fill="#1a1a2a" stroke="#1a1a2a" stroke-width="0.05" >JUN</text>
<text x="456.30" y="166.39" font-size="6.3" text-anchor="start" font-weight="normal" fill="#1a1a2a" stroke="#1a1a2a" stroke-width="0.05" >IFITM2</text>
<text x="456.30" y="172.34" font-size="6.3" text-anchor="start" font-weight="normal" fill="#1a1a2a" stroke="#1a1a2a" stroke-width="0.05" >GNG10</text>
<text x="456.30" y="178.29" font-size="6.3" text-anchor="start" font-weight="normal" fill="#1a1a2a" stroke="#1a1a2a" stroke-width="0.05" >FGF7</text>
<text x="456.30" y="184.24" font-size="6.3" text-anchor="start" font-weight="normal" fill="#1a1a2a" stroke="#1a1a2a" stroke-width="0.05" >BCL3</text>
<text x="456.30" y="190.19" font-size="6.3" text-anchor="start" font-weight="normal" fill="#1a1a2a" stroke="#1a1a2a" stroke-width="0.05" >TP53BP2</text>
<text x="456.30" y="196.14" font-size="6.3" text-anchor="start" font-weight="normal" fill="#1a1a2a" stroke="#1a1a2a" stroke-width="0.05" >CD14</text>
<text x="456.30" y="202.09" font-size="6.3" text-anchor="start" font-weight="normal" fill="#1a1a2a" stroke="#1a1a2a" stroke-width="0.05" >ZFP36</text>
<text x="456.30" y="208.04" font-size="6.3" text-anchor="start" font-weight="normal" fill="#1a1a2a" stroke="#1a1a2a" stroke-width="0.05" >PTPN2</text>
<text x="456.30" y="213.99" font-size="6.3" text-anchor="start" font-weight="normal" fill="#1a1a2a" stroke="#1a1a2a" stroke-width="0.05" >STAT3</text>
<text x="456.30" y="219.94" font-size="6.3" text-anchor="start" font-weight="normal" fill="#1a1a2a" stroke="#1a1a2a" stroke-width="0.05" >TRIM22</text>
<text x="456.30" y="225.89" font-size="6.3" text-anchor="start" font-weight="normal" fill="#1a1a2a" stroke="#1a1a2a" stroke-width="0.05" >AIM2</text>
<text x="456.30" y="231.84" font-size="6.3" text-anchor="start" font-weight="normal" fill="#1a1a2a" stroke="#1a1a2a" stroke-width="0.05" >DHRS9</text>
<text x="456.30" y="237.79" font-size="6.3" text-anchor="start" font-weight="normal" fill="#1a1a2a" stroke="#1a1a2a" stroke-width="0.05" >PRDM1</text>
<text x="456.30" y="243.74" font-size="6.3" text-anchor="start" font-weight="normal" fill="#1a1a2a" stroke="#1a1a2a" stroke-width="0.05" >KLHL6</text>
<text x="456.30" y="249.69" font-size="6.3" text-anchor="start" font-weight="normal" fill="#1a1a2a" stroke="#1a1a2a" stroke-width="0.05" >MARCH1</text>
<text x="456.30" y="255.64" font-size="6.3" text-anchor="start" font-weight="normal" fill="#1a1a2a" stroke="#1a1a2a" stroke-width="0.05" >LILRB1</text>
<defs><linearGradient id="cb" x1="0" y1="0" x2="0" y2="1"><stop offset="0" stop-color="#ff0000"/><stop offset="0.2" stop-color="#ff0000"/><stop offset="0.52" stop-color="#000000"/><stop offset="0.8" stop-color="#00ff00"/><stop offset="1" stop-color="#00ff00"/></linearGradient></defs>
<rect x="375.00" y="97.90" width="14.10" height="71.70" fill="url(#cb)" stroke="none" stroke-width="1" />
<text x="372.60" y="103.74" font-size="9" text-anchor="end" font-weight="normal" fill="#111" stroke="#111" stroke-width="0.25" >2x</text>
<text x="372.60" y="139.94" font-size="9" text-anchor="end" font-weight="normal" fill="#111" stroke="#111" stroke-width="0.25" >1x</text>
<text x="372.60" y="171.24" font-size="9" text-anchor="end" font-weight="normal" fill="#111" stroke="#111" stroke-width="0.25" >0.5x</text>
<text x="381.50" y="182.24" font-size="9" text-anchor="middle" font-weight="normal" fill="#111" stroke="#111" stroke-width="0.25" >Relative</text>
<text x="381.50" y="191.24" font-size="9" text-anchor="middle" font-weight="normal" fill="#111" stroke="#111" stroke-width="0.25" >gene</text>
<text x="381.50" y="200.04" font-size="9" text-anchor="middle" font-weight="normal" fill="#111" stroke="#111" stroke-width="0.25" >expression</text>
<text x="280.00" y="289.44" font-size="11.5" text-anchor="start" font-weight="bold" fill="#000" stroke="#000" stroke-width="0" >D</text>
<rect x="328.50" y="290.80" width="86.10" height="133.10" fill="none" stroke="#b4b4b4" stroke-width="1" />
<line x1="326.60" y1="334.90" x2="414.60" y2="334.90" stroke="#666" stroke-width="1.1" />
<line x1="326.60" y1="379.40" x2="414.60" y2="379.40" stroke="#666" stroke-width="1.1" />
<line x1="326.60" y1="290.40" x2="328.50" y2="290.40" stroke="#555" stroke-width="1" />
<line x1="326.60" y1="423.90" x2="328.50" y2="423.90" stroke="#555" stroke-width="1" />
<line x1="326.60" y1="423.90" x2="414.60" y2="423.90" stroke="#222" stroke-width="1.2" />
<text x="326.40" y="293.62" font-size="8.1" text-anchor="end" font-weight="normal" fill="#111" stroke="#111" stroke-width="0.25" >15</text>
<text x="326.40" y="338.12" font-size="8.1" text-anchor="end" font-weight="normal" fill="#111" stroke="#111" stroke-width="0.25" >10</text>
<text x="326.40" y="382.62" font-size="8.1" text-anchor="end" font-weight="normal" fill="#111" stroke="#111" stroke-width="0.25" >5</text>
<text x="326.40" y="427.12" font-size="8.1" text-anchor="end" font-weight="normal" fill="#111" stroke="#111" stroke-width="0.25" >0</text>
<text x="368.80" y="289.24" font-size="9" text-anchor="middle" font-weight="normal" fill="#111" stroke="#111" stroke-width="0.25" >IL-6</text>
<rect x="331.20" y="423.19" width="4.60" height="0.71" fill="#9d9df2" stroke="#3b3b9a" stroke-width="0.7" />
<rect x="335.80" y="423.63" width="4.10" height="0.27" fill="#8e2451" stroke="#4a1028" stroke-width="0.7" />
<line x1="333.50" y1="421.69" x2="333.50" y2="423.19" stroke="#3b3b9a" stroke-width="0.8" />
<line x1="337.80" y1="421.83" x2="337.80" y2="423.63" stroke="#4a1028" stroke-width="0.6" />
<rect x="345.00" y="413.22" width="4.60" height="10.68" fill="#9d9df2" stroke="#3b3b9a" stroke-width="0.7" />
<rect x="349.60" y="416.78" width="4.10" height="7.12" fill="#8e2451" stroke="#4a1028" stroke-width="0.7" />
<line x1="347.30" y1="411.72" x2="347.30" y2="413.22" stroke="#3b3b9a" stroke-width="0.8" />
<line x1="351.60" y1="414.98" x2="351.60" y2="416.78" stroke="#4a1028" stroke-width="0.6" />
<rect x="359.80" y="395.42" width="4.60" height="28.48" fill="#9d9df2" stroke="#3b3b9a" stroke-width="0.7" />
<rect x="364.40" y="412.33" width="4.10" height="11.57" fill="#8e2451" stroke="#4a1028" stroke-width="0.7" />
<line x1="362.10" y1="393.92" x2="362.10" y2="395.42" stroke="#3b3b9a" stroke-width="0.8" />
<line x1="366.40" y1="410.53" x2="366.40" y2="412.33" stroke="#4a1028" stroke-width="0.6" />
<rect x="374.40" y="379.40" width="4.60" height="44.50" fill="#9d9df2" stroke="#3b3b9a" stroke-width="0.7" />
<rect x="379.00" y="410.55" width="4.10" height="13.35" fill="#8e2451" stroke="#4a1028" stroke-width="0.7" />
<line x1="376.70" y1="377.90" x2="376.70" y2="379.40" stroke="#3b3b9a" stroke-width="0.8" />
<line x1="381.00" y1="408.75" x2="381.00" y2="410.55" stroke="#4a1028" stroke-width="0.6" />
<rect x="389.10" y="363.82" width="4.60" height="60.07" fill="#9d9df2" stroke="#3b3b9a" stroke-width="0.7" />
<rect x="393.70" y="408.77" width="4.10" height="15.13" fill="#8e2451" stroke="#4a1028" stroke-width="0.7" />
<line x1="391.40" y1="362.32" x2="391.40" y2="363.82" stroke="#3b3b9a" stroke-width="0.8" />
<line x1="395.70" y1="406.97" x2="395.70" y2="408.77" stroke="#4a1028" stroke-width="0.6" />
<rect x="403.60" y="303.75" width="4.60" height="120.15" fill="#9d9df2" stroke="#3b3b9a" stroke-width="0.7" />
<rect x="408.20" y="405.65" width="4.10" height="18.25" fill="#8e2451" stroke="#4a1028" stroke-width="0.7" />
<line x1="405.90" y1="302.25" x2="405.90" y2="303.75" stroke="#3b3b9a" stroke-width="0.8" />
<line x1="410.20" y1="403.85" x2="410.20" y2="405.65" stroke="#4a1028" stroke-width="0.6" />
<text x="335.80" y="431.90" font-size="8.6" text-anchor="middle" font-weight="normal" fill="#111" stroke="#111" stroke-width="0.25" >0</text>
<text x="349.40" y="431.90" font-size="8.6" text-anchor="middle" font-weight="normal" fill="#111" stroke="#111" stroke-width="0.25" >3</text>
<text x="363.80" y="431.90" font-size="8.6" text-anchor="middle" font-weight="normal" fill="#111" stroke="#111" stroke-width="0.25" >6</text>
<text x="378.30" y="431.90" font-size="8.6" text-anchor="middle" font-weight="normal" fill="#111" stroke="#111" stroke-width="0.25" >9</text>
<text x="393.50" y="431.90" font-size="8.6" text-anchor="middle" font-weight="normal" fill="#111" stroke="#111" stroke-width="0.25" >12</text>
<text x="408.30" y="431.90" font-size="8.6" text-anchor="middle" font-weight="normal" fill="#111" stroke="#111" stroke-width="0.25" >24</text>
<text x="373.00" y="444.70" font-size="8.9" text-anchor="middle" font-weight="normal" fill="#111" stroke="#111" stroke-width="0.25" >Time (hrs)</text>
<text x="294.50" y="345.20" font-size="8.9" text-anchor="middle" font-weight="normal" fill="#111" stroke="#111" stroke-width="0.25" >cytokine</text>
<text x="294.50" y="355.20" font-size="8.9" text-anchor="middle" font-weight="normal" fill="#111" stroke="#111" stroke-width="0.25" >secretion</text>
<text x="294.50" y="366.00" font-size="8.9" text-anchor="middle" font-weight="normal" fill="#111" stroke="#111" stroke-width="0.25" >(relative</text>
<text x="294.50" y="376.40" font-size="8.9" text-anchor="middle" font-weight="normal" fill="#111" stroke="#111" stroke-width="0.25" >units)</text>
<rect x="433.30" y="290.70" width="84.70" height="132.90" fill="none" stroke="#b4b4b4" stroke-width="1" />
<line x1="431.00" y1="290.70" x2="433.30" y2="290.70" stroke="#555" stroke-width="1" />
<line x1="431.00" y1="316.80" x2="518.00" y2="316.80" stroke="#666" stroke-width="1.1" />
<line x1="431.00" y1="343.50" x2="518.00" y2="343.50" stroke="#666" stroke-width="1.1" />
<line x1="431.00" y1="370.20" x2="518.00" y2="370.20" stroke="#666" stroke-width="1.1" />
<line x1="431.00" y1="396.90" x2="518.00" y2="396.90" stroke="#666" stroke-width="1.1" />
<line x1="431.00" y1="423.60" x2="518.00" y2="423.60" stroke="#222" stroke-width="1.2" />
<text x="431.20" y="293.32" font-size="8.1" text-anchor="end" font-weight="normal" fill="#111" stroke="#111" stroke-width="0.25" >25</text>
<text x="431.20" y="320.02" font-size="8.1" text-anchor="end" font-weight="normal" fill="#111" stroke="#111" stroke-width="0.25" >20</text>
<text x="431.20" y="346.72" font-size="8.1" text-anchor="end" font-weight="normal" fill="#111" stroke="#111" stroke-width="0.25" >15</text>
<text x="431.20" y="373.42" font-size="8.1" text-anchor="end" font-weight="normal" fill="#111" stroke="#111" stroke-width="0.25" >10</text>
<text x="431.20" y="400.12" font-size="8.1" text-anchor="end" font-weight="normal" fill="#111" stroke="#111" stroke-width="0.25" >5</text>
<text x="431.20" y="426.82" font-size="8.1" text-anchor="end" font-weight="normal" fill="#111" stroke="#111" stroke-width="0.25" >0</text>
<text x="478.00" y="288.84" font-size="9" text-anchor="middle" font-weight="normal" fill="#111" stroke="#111" stroke-width="0.25" >IL-10</text>
<rect x="436.40" y="423.07" width="4.40" height="0.53" fill="#9d9df2" stroke="#3b3b9a" stroke-width="0.7" />
<rect x="450.20" y="419.33" width="4.40" height="4.27" fill="#9d9df2" stroke="#3b3b9a" stroke-width="0.7" />
<rect x="454.60" y="421.20" width="4.00" height="2.40" fill="#8e2451" stroke="#4a1028" stroke-width="0.7" />
<line x1="452.40" y1="417.73" x2="452.40" y2="420.93" stroke="#3b3b9a" stroke-width="0.7" />
<line x1="451.40" y1="417.73" x2="453.40" y2="417.73" stroke="#3b3b9a" stroke-width="0.7" />
<line x1="456.60" y1="420.13" x2="456.60" y2="421.20" stroke="#4a1028" stroke-width="0.6" />
<rect x="464.60" y="413.99" width="4.40" height="9.61" fill="#9d9df2" stroke="#3b3b9a" stroke-width="0.7" />
<rect x="469.00" y="417.73" width="4.00" height="5.87" fill="#8e2451" stroke="#4a1028" stroke-width="0.7" />
<line x1="466.80" y1="411.85" x2="466.80" y2="416.12" stroke="#3b3b9a" stroke-width="0.7" />
<line x1="465.80" y1="411.85" x2="467.80" y2="411.85" stroke="#3b3b9a" stroke-width="0.7" />
<line x1="471.00" y1="416.66" x2="471.00" y2="417.73" stroke="#4a1028" stroke-width="0.6" />
<rect x="479.10" y="408.92" width="4.40" height="14.69" fill="#9d9df2" stroke="#3b3b9a" stroke-width="0.7" />
<rect x="483.50" y="414.52" width="4.00" height="9.08" fill="#8e2451" stroke="#4a1028" stroke-width="0.7" />
<line x1="481.30" y1="405.71" x2="481.30" y2="412.12" stroke="#3b3b9a" stroke-width="0.7" />
<line x1="480.30" y1="405.71" x2="482.30" y2="405.71" stroke="#3b3b9a" stroke-width="0.7" />
<line x1="485.50" y1="413.45" x2="485.50" y2="414.52" stroke="#4a1028" stroke-width="0.6" />
<rect x="494.10" y="400.10" width="4.40" height="23.50" fill="#9d9df2" stroke="#3b3b9a" stroke-width="0.7" />
<rect x="498.50" y="409.72" width="4.00" height="13.88" fill="#8e2451" stroke="#4a1028" stroke-width="0.7" />
<line x1="496.30" y1="395.83" x2="496.30" y2="404.38" stroke="#3b3b9a" stroke-width="0.7" />
<line x1="495.30" y1="395.83" x2="497.30" y2="395.83" stroke="#3b3b9a" stroke-width="0.7" />
<line x1="500.50" y1="407.05" x2="500.50" y2="409.72" stroke="#4a1028" stroke-width="0.6" />
<rect x="508.60" y="310.39" width="4.40" height="113.21" fill="#9d9df2" stroke="#3b3b9a" stroke-width="0.7" />
<rect x="513.00" y="352.04" width="4.00" height="71.56" fill="#8e2451" stroke="#4a1028" stroke-width="0.7" />
<line x1="510.80" y1="297.04" x2="510.80" y2="323.74" stroke="#3b3b9a" stroke-width="0.7" />
<line x1="509.80" y1="297.04" x2="511.80" y2="297.04" stroke="#3b3b9a" stroke-width="0.7" />
<line x1="515.00" y1="336.56" x2="515.00" y2="352.04" stroke="#4a1028" stroke-width="0.6" />
<text x="440.80" y="432.00" font-size="8.6" text-anchor="middle" font-weight="normal" fill="#111" stroke="#111" stroke-width="0.25" >0</text>
<text x="454.60" y="432.00" font-size="8.6" text-anchor="middle" font-weight="normal" fill="#111" stroke="#111" stroke-width="0.25" >3</text>
<text x="469.60" y="432.00" font-size="8.6" text-anchor="middle" font-weight="normal" fill="#111" stroke="#111" stroke-width="0.25" >6</text>
<text x="483.50" y="432.00" font-size="8.6" text-anchor="middle" font-weight="normal" fill="#111" stroke="#111" stroke-width="0.25" >9</text>
<text x="498.80" y="432.00" font-size="8.6" text-anchor="middle" font-weight="normal" fill="#111" stroke="#111" stroke-width="0.25" >12</text>
<text x="513.30" y="432.00" font-size="8.6" text-anchor="middle" font-weight="normal" fill="#111" stroke="#111" stroke-width="0.25" >24</text>
<text x="478.80" y="442.60" font-size="8.9" text-anchor="middle" font-weight="normal" fill="#111" stroke="#111" stroke-width="0.25" >Time (hrs)</text>
<rect x="351.00" y="450.80" width="13.40" height="7.20" fill="#9d9df2" stroke="#3b3b9a" stroke-width="0.7" />
<text x="366.50" y="457.84" font-size="9" text-anchor="start" font-weight="normal" fill="#111" stroke="#111" stroke-width="0.25" >No treatment</text>
<rect x="431.20" y="450.60" width="13.80" height="7.40" fill="#8e2451" stroke="#4a1028" stroke-width="0.7" />
<text x="447.90" y="457.84" font-size="9" text-anchor="start" font-weight="normal" fill="#111" stroke="#111" stroke-width="0.25" >JAK inhibitor</text>
<text x="1.50" y="487.98" font-size="10.5" text-anchor="start" font-weight="bold" fill="#000" stroke="#000" stroke-width="0" >E</text>
<line x1="84.60" y1="520.62" x2="218.50" y2="520.62" stroke="#555" stroke-width="1.1" />
<line x1="84.60" y1="545.95" x2="218.50" y2="545.95" stroke="#555" stroke-width="1.1" />
<line x1="84.60" y1="571.27" x2="218.50" y2="571.27" stroke="#555" stroke-width="1.1" />
<line x1="84.60" y1="495.30" x2="218.50" y2="495.30" stroke="#555" stroke-width="1.1" />
<text x="83.20" y="497.78" font-size="6.9" text-anchor="end" font-weight="normal" fill="#111" stroke="#111" stroke-width="0.15" >100</text>
<text x="83.20" y="523.11" font-size="6.9" text-anchor="end" font-weight="normal" fill="#111" stroke="#111" stroke-width="0.15" >75</text>
<text x="83.20" y="548.43" font-size="6.9" text-anchor="end" font-weight="normal" fill="#111" stroke="#111" stroke-width="0.15" >50</text>
<text x="83.20" y="573.76" font-size="6.9" text-anchor="end" font-weight="normal" fill="#111" stroke="#111" stroke-width="0.15" >25</text>
<text x="83.20" y="599.08" font-size="6.9" text-anchor="end" font-weight="normal" fill="#111" stroke="#111" stroke-width="0.15" >0</text>
<text x="154.00" y="487.44" font-size="9" text-anchor="middle" font-weight="normal" fill="#111" stroke="#111" stroke-width="0.25" >OCI-Ly3</text>
<polyline points="96.00,495.30 118.20,500.57 140.40,505.43 162.60,507.76 184.80,509.38 207.00,545.34" fill="none" stroke="#0a0a82" stroke-width="2.0" stroke-linejoin="round"/>
<polygon points="96.00,491.58 99.72,495.30 96.00,499.02 92.28,495.30" fill="#0a0a82"/>
<polygon points="118.20,496.85 121.92,500.57 118.20,504.29 114.48,500.57" fill="#0a0a82"/>
<polygon points="140.40,501.71 144.12,505.43 140.40,509.15 136.68,505.43" fill="#0a0a82"/>
<polygon points="162.60,504.04 166.32,507.76 162.60,511.48 158.88,507.76" fill="#0a0a82"/>
<polygon points="184.80,505.66 188.52,509.38 184.80,513.10 181.08,509.38" fill="#0a0a82"/>
<polygon points="207.00,541.62 210.72,545.34 207.00,549.06 203.28,545.34" fill="#0a0a82"/>
<polyline points="96.00,495.30 118.20,498.95 140.40,508.67 162.60,503.81 184.80,500.57 207.00,519.81" fill="none" stroke="#a626ee" stroke-width="2.0" stroke-linejoin="round"/>
<rect x="92.90" y="492.20" width="6.20" height="6.20" fill="#a626ee"/>
<rect x="115.10" y="495.85" width="6.20" height="6.20" fill="#a626ee"/>
<rect x="137.30" y="505.57" width="6.20" height="6.20" fill="#a626ee"/>
<rect x="159.50" y="500.71" width="6.20" height="6.20" fill="#a626ee"/>
<rect x="181.70" y="497.47" width="6.20" height="6.20" fill="#a626ee"/>
<rect x="203.90" y="516.71" width="6.20" height="6.20" fill="#a626ee"/>
<polyline points="96.00,496.31 118.20,507.05 140.40,513.23 162.60,526.70 184.80,543.62 207.00,586.88" fill="none" stroke="#ee1111" stroke-width="2.0" stroke-linejoin="round"/>
<polygon points="96.00,492.75 99.72,498.95 92.28,498.95" fill="#ee1111"/>
<polygon points="118.20,503.49 121.92,509.69 114.48,509.69" fill="#ee1111"/>
<polygon points="140.40,509.67 144.12,515.87 136.68,515.87" fill="#ee1111"/>
<polygon points="162.60,523.14 166.32,529.34 158.88,529.34" fill="#ee1111"/>
<polygon points="184.80,540.06 188.52,546.26 181.08,546.26" fill="#ee1111"/>
<polygon points="207.00,583.31 210.72,589.51 203.28,589.51" fill="#ee1111"/>
<rect x="84.60" y="490.70" width="133.90" height="105.80" fill="none" stroke="#000" stroke-width="1.3" />
<text x="96.00" y="605.05" font-size="6.8" text-anchor="middle" font-weight="normal" fill="#111" stroke="#111" stroke-width="0.15" >0</text>
<text x="96.00" y="612.85" font-size="6.8" text-anchor="middle" font-weight="normal" fill="#111" stroke="#111" stroke-width="0.15" >0</text>
<text x="117.90" y="605.05" font-size="6.8" text-anchor="middle" font-weight="normal" fill="#111" stroke="#111" stroke-width="0.15" >0.08</text>
<text x="117.90" y="612.85" font-size="6.8" text-anchor="middle" font-weight="normal" fill="#111" stroke="#111" stroke-width="0.15" >0.31</text>
<text x="139.80" y="605.05" font-size="6.8" text-anchor="middle" font-weight="normal" fill="#111" stroke="#111" stroke-width="0.15" >0.156</text>
<text x="139.80" y="612.85" font-size="6.8" text-anchor="middle" font-weight="normal" fill="#111" stroke="#111" stroke-width="0.15" >0.63</text>
<text x="161.70" y="605.05" font-size="6.8" text-anchor="middle" font-weight="normal" fill="#111" stroke="#111" stroke-width="0.15" >0.313</text>
<text x="161.70" y="612.85" font-size="6.8" text-anchor="middle" font-weight="normal" fill="#111" stroke="#111" stroke-width="0.15" >1.25</text>
<text x="183.60" y="605.05" font-size="6.8" text-anchor="middle" font-weight="normal" fill="#111" stroke="#111" stroke-width="0.15" >0.625</text>
<text x="183.60" y="612.85" font-size="6.8" text-anchor="middle" font-weight="normal" fill="#111" stroke="#111" stroke-width="0.15" >2.5</text>
<text x="205.50" y="605.05" font-size="6.8" text-anchor="middle" font-weight="normal" fill="#111" stroke="#111" stroke-width="0.15" >1.25</text>
<text x="205.50" y="612.85" font-size="6.8" text-anchor="middle" font-weight="normal" fill="#111" stroke="#111" stroke-width="0.15" >5</text>
<line x1="233.10" y1="520.62" x2="367.30" y2="520.62" stroke="#555" stroke-width="1.1" />
<line x1="233.10" y1="545.95" x2="367.30" y2="545.95" stroke="#555" stroke-width="1.1" />
<line x1="233.10" y1="571.27" x2="367.30" y2="571.27" stroke="#555" stroke-width="1.1" />
<line x1="233.10" y1="495.30" x2="367.30" y2="495.30" stroke="#555" stroke-width="1.1" />
<text x="231.70" y="497.78" font-size="6.9" text-anchor="end" font-weight="normal" fill="#111" stroke="#111" stroke-width="0.15" >100</text>
<text x="231.70" y="523.11" font-size="6.9" text-anchor="end" font-weight="normal" fill="#111" stroke="#111" stroke-width="0.15" >75</text>
<text x="231.70" y="548.43" font-size="6.9" text-anchor="end" font-weight="normal" fill="#111" stroke="#111" stroke-width="0.15" >50</text>
<text x="231.70" y="573.76" font-size="6.9" text-anchor="end" font-weight="normal" fill="#111" stroke="#111" stroke-width="0.15" >25</text>
<text x="231.70" y="599.08" font-size="6.9" text-anchor="end" font-weight="normal" fill="#111" stroke="#111" stroke-width="0.15" >0</text>
<text x="302.00" y="487.44" font-size="9" text-anchor="middle" font-weight="normal" fill="#111" stroke="#111" stroke-width="0.25" >OCI-Ly10</text>
<polyline points="244.80,495.30 267.10,497.33 289.40,508.67 311.70,515.26 334.00,513.23 356.30,548.69" fill="none" stroke="#0a0a82" stroke-width="2.0" stroke-linejoin="round"/>
<polygon points="244.80,491.58 248.52,495.30 244.80,499.02 241.08,495.30" fill="#0a0a82"/>
<polygon points="267.10,493.61 270.82,497.33 267.10,501.05 263.38,497.33" fill="#0a0a82"/>
<polygon points="289.40,504.95 293.12,508.67 289.40,512.39 285.68,508.67" fill="#0a0a82"/>
<polygon points="311.70,511.54 315.42,515.26 311.70,518.98 307.98,515.26" fill="#0a0a82"/>
<polygon points="334.00,509.51 337.72,513.23 334.00,516.95 330.28,513.23" fill="#0a0a82"/>
<polygon points="356.30,544.97 360.02,548.69 356.30,552.41 352.58,548.69" fill="#0a0a82"/>
<polyline points="244.80,495.30 267.10,500.16 289.40,510.29 311.70,518.19 334.00,531.26 356.30,566.01" fill="none" stroke="#a626ee" stroke-width="2.0" stroke-linejoin="round"/>
<rect x="241.70" y="492.20" width="6.20" height="6.20" fill="#a626ee"/>
<rect x="264.00" y="497.06" width="6.20" height="6.20" fill="#a626ee"/>
<rect x="286.30" y="507.19" width="6.20" height="6.20" fill="#a626ee"/>
<rect x="308.60" y="515.09" width="6.20" height="6.20" fill="#a626ee"/>
<rect x="330.90" y="528.16" width="6.20" height="6.20" fill="#a626ee"/>
<rect x="353.20" y="562.91" width="6.20" height="6.20" fill="#a626ee"/>
<polyline points="244.80,496.31 267.10,503.81 289.40,520.12 311.70,526.30 334.00,556.08 356.30,583.94" fill="none" stroke="#ee1111" stroke-width="2.0" stroke-linejoin="round"/>
<polygon points="244.80,492.75 248.52,498.95 241.08,498.95" fill="#ee1111"/>
<polygon points="267.10,500.24 270.82,506.44 263.38,506.44" fill="#ee1111"/>
<polygon points="289.40,516.55 293.12,522.75 285.68,522.75" fill="#ee1111"/>
<polygon points="311.70,522.73 315.42,528.93 307.98,528.93" fill="#ee1111"/>
<polygon points="334.00,552.51 337.72,558.72 330.28,558.72" fill="#ee1111"/>
<polygon points="356.30,580.37 360.02,586.57 352.58,586.57" fill="#ee1111"/>
<rect x="233.10" y="490.70" width="134.20" height="105.80" fill="none" stroke="#000" stroke-width="1.3" />
<text x="244.80" y="605.05" font-size="6.8" text-anchor="middle" font-weight="normal" fill="#111" stroke="#111" stroke-width="0.15" >0</text>
<text x="244.80" y="612.85" font-size="6.8" text-anchor="middle" font-weight="normal" fill="#111" stroke="#111" stroke-width="0.15" >0</text>
<text x="266.80" y="605.05" font-size="6.8" text-anchor="middle" font-weight="normal" fill="#111" stroke="#111" stroke-width="0.15" >0.08</text>
<text x="266.80" y="612.85" font-size="6.8" text-anchor="middle" font-weight="normal" fill="#111" stroke="#111" stroke-width="0.15" >0.31</text>
<text x="288.80" y="605.05" font-size="6.8" text-anchor="middle" font-weight="normal" fill="#111" stroke="#111" stroke-width="0.15" >0.156</text>
<text x="288.80" y="612.85" font-size="6.8" text-anchor="middle" font-weight="normal" fill="#111" stroke="#111" stroke-width="0.15" >0.63</text>
<text x="310.80" y="605.05" font-size="6.8" text-anchor="middle" font-weight="normal" fill="#111" stroke="#111" stroke-width="0.15" >0.313</text>
<text x="310.80" y="612.85" font-size="6.8" text-anchor="middle" font-weight="normal" fill="#111" stroke="#111" stroke-width="0.15" >1.25</text>
<text x="332.80" y="605.05" font-size="6.8" text-anchor="middle" font-weight="normal" fill="#111" stroke="#111" stroke-width="0.15" >0.625</text>
<text x="332.80" y="612.85" font-size="6.8" text-anchor="middle" font-weight="normal" fill="#111" stroke="#111" stroke-width="0.15" >2.5</text>
<text x="354.80" y="605.05" font-size="6.8" text-anchor="middle" font-weight="normal" fill="#111" stroke="#111" stroke-width="0.15" >1.25</text>
<text x="354.80" y="612.85" font-size="6.8" text-anchor="middle" font-weight="normal" fill="#111" stroke="#111" stroke-width="0.15" >5</text>
<line x1="381.00" y1="520.62" x2="515.00" y2="520.62" stroke="#555" stroke-width="1.1" />
<line x1="381.00" y1="545.95" x2="515.00" y2="545.95" stroke="#555" stroke-width="1.1" />
<line x1="381.00" y1="571.27" x2="515.00" y2="571.27" stroke="#555" stroke-width="1.1" />
<line x1="381.00" y1="495.30" x2="515.00" y2="495.30" stroke="#555" stroke-width="1.1" />
<text x="379.60" y="497.78" font-size="6.9" text-anchor="end" font-weight="normal" fill="#111" stroke="#111" stroke-width="0.15" >100</text>
<text x="379.60" y="523.11" font-size="6.9" text-anchor="end" font-weight="normal" fill="#111" stroke="#111" stroke-width="0.15" >75</text>
<text x="379.60" y="548.43" font-size="6.9" text-anchor="end" font-weight="normal" fill="#111" stroke="#111" stroke-width="0.15" >50</text>
<text x="379.60" y="573.76" font-size="6.9" text-anchor="end" font-weight="normal" fill="#111" stroke="#111" stroke-width="0.15" >25</text>
<text x="379.60" y="599.08" font-size="6.9" text-anchor="end" font-weight="normal" fill="#111" stroke="#111" stroke-width="0.15" >0</text>
<text x="450.70" y="487.44" font-size="9" text-anchor="middle" font-weight="normal" fill="#111" stroke="#111" stroke-width="0.25" >HBL1</text>
<polyline points="391.80,495.30 414.20,507.76 436.60,513.64 459.00,518.19 481.40,531.67 503.80,553.55" fill="none" stroke="#0a0a82" stroke-width="2.0" stroke-linejoin="round"/>
<polygon points="391.80,491.58 395.52,495.30 391.80,499.02 388.08,495.30" fill="#0a0a82"/>
<polygon points="414.20,504.04 417.92,507.76 414.20,511.48 410.48,507.76" fill="#0a0a82"/>
<polygon points="436.60,509.92 440.32,513.64 436.60,517.36 432.88,513.64" fill="#0a0a82"/>
<polygon points="459.00,514.47 462.72,518.19 459.00,521.91 455.28,518.19" fill="#0a0a82"/>
<polygon points="481.40,527.95 485.12,531.67 481.40,535.39 477.68,531.67" fill="#0a0a82"/>
<polygon points="503.80,549.83 507.52,553.55 503.80,557.27 500.08,553.55" fill="#0a0a82"/>
<polyline points="391.80,495.30 414.20,511.00 436.60,508.67 459.00,514.24 481.40,522.45 503.80,546.36" fill="none" stroke="#a626ee" stroke-width="2.0" stroke-linejoin="round"/>
<rect x="388.70" y="492.20" width="6.20" height="6.20" fill="#a626ee"/>
<rect x="411.10" y="507.90" width="6.20" height="6.20" fill="#a626ee"/>
<rect x="433.50" y="505.57" width="6.20" height="6.20" fill="#a626ee"/>
<rect x="455.90" y="511.14" width="6.20" height="6.20" fill="#a626ee"/>
<rect x="478.30" y="519.35" width="6.20" height="6.20" fill="#a626ee"/>
<rect x="500.70" y="543.26" width="6.20" height="6.20" fill="#a626ee"/>
<polyline points="391.80,495.81 414.20,521.74 436.60,532.98 459.00,544.33 481.40,553.55 503.80,578.06" fill="none" stroke="#ee1111" stroke-width="2.0" stroke-linejoin="round"/>
<polygon points="391.80,492.24 395.52,498.44 388.08,498.44" fill="#ee1111"/>
<polygon points="414.20,518.17 417.92,524.37 410.48,524.37" fill="#ee1111"/>
<polygon points="436.60,529.42 440.32,535.62 432.88,535.62" fill="#ee1111"/>
<polygon points="459.00,540.76 462.72,546.96 455.28,546.96" fill="#ee1111"/>
<polygon points="481.40,549.98 485.12,556.18 477.68,556.18" fill="#ee1111"/>
<polygon points="503.80,574.50 507.52,580.70 500.08,580.70" fill="#ee1111"/>
<rect x="381.00" y="490.70" width="134.00" height="105.80" fill="none" stroke="#000" stroke-width="1.3" />
<text x="391.80" y="605.05" font-size="6.8" text-anchor="middle" font-weight="normal" fill="#111" stroke="#111" stroke-width="0.15" >0</text>
<text x="391.80" y="612.85" font-size="6.8" text-anchor="middle" font-weight="normal" fill="#111" stroke="#111" stroke-width="0.15" >0</text>
<text x="413.90" y="605.05" font-size="6.8" text-anchor="middle" font-weight="normal" fill="#111" stroke="#111" stroke-width="0.15" >0.08</text>
<text x="413.90" y="612.85" font-size="6.8" text-anchor="middle" font-weight="normal" fill="#111" stroke="#111" stroke-width="0.15" >0.31</text>
<text x="436.00" y="605.05" font-size="6.8" text-anchor="middle" font-weight="normal" fill="#111" stroke="#111" stroke-width="0.15" >0.156</text>
<text x="436.00" y="612.85" font-size="6.8" text-anchor="middle" font-weight="normal" fill="#111" stroke="#111" stroke-width="0.15" >0.63</text>
<text x="458.10" y="605.05" font-size="6.8" text-anchor="middle" font-weight="normal" fill="#111" stroke="#111" stroke-width="0.15" >0.313</text>
<text x="458.10" y="612.85" font-size="6.8" text-anchor="middle" font-weight="normal" fill="#111" stroke="#111" stroke-width="0.15" >1.25</text>
<text x="480.20" y="605.05" font-size="6.8" text-anchor="middle" font-weight="normal" fill="#111" stroke="#111" stroke-width="0.15" >0.625</text>
<text x="480.20" y="612.85" font-size="6.8" text-anchor="middle" font-weight="normal" fill="#111" stroke="#111" stroke-width="0.15" >2.5</text>
<text x="502.30" y="605.05" font-size="6.8" text-anchor="middle" font-weight="normal" fill="#111" stroke="#111" stroke-width="0.15" >1.25</text>
<text x="502.30" y="612.85" font-size="6.8" text-anchor="middle" font-weight="normal" fill="#111" stroke="#111" stroke-width="0.15" >5</text>
<text x="85.30" y="605.12" font-size="8.1" text-anchor="end" font-weight="normal" fill="#111" stroke="#111" stroke-width="0.25" >JAK inhibitor (μM):</text>
<text x="85.30" y="612.92" font-size="8.1" text-anchor="end" font-weight="normal" fill="#111" stroke="#111" stroke-width="0.25" >IKKβ inhibitor (μM):</text>
<text x="42.70" y="545.17" font-size="8.8" text-anchor="middle" font-weight="normal" fill="#111" stroke="#111" stroke-width="0.25" >Viability</text>
<text x="42.70" y="554.87" font-size="8.8" text-anchor="middle" font-weight="normal" fill="#111" stroke="#111" stroke-width="0.25" >(% of control)</text>
<line x1="180.70" y1="624.80" x2="201.80" y2="624.80" stroke="#a626ee" stroke-width="2" />
<rect x="188.10" y="621.60" width="6.40" height="6.40" fill="#a626ee"/>
<text x="204.60" y="628.04" font-size="9" text-anchor="start" font-weight="normal" fill="#111" stroke="#111" stroke-width="0.25" >JAK inhibitor</text>
<line x1="273.20" y1="624.80" x2="295.10" y2="624.80" stroke="#0a0a82" stroke-width="2" />
<polygon points="284.40,619.76 289.44,624.80 284.40,629.84 279.36,624.80" fill="#0a0a82"/>
<text x="297.70" y="628.04" font-size="9" text-anchor="start" font-weight="normal" fill="#111" stroke="#111" stroke-width="0.25" >IKKβ inhibitor</text>
<line x1="369.50" y1="624.80" x2="391.20" y2="624.80" stroke="#ee1111" stroke-width="2" />
<polygon points="379.70,620.43 384.26,628.03 375.14,628.03" fill="#ee1111"/>
<text x="394.20" y="628.04" font-size="9" text-anchor="start" font-weight="normal" fill="#111" stroke="#111" stroke-width="0.25" >Both</text>
</svg>
</body></html>
